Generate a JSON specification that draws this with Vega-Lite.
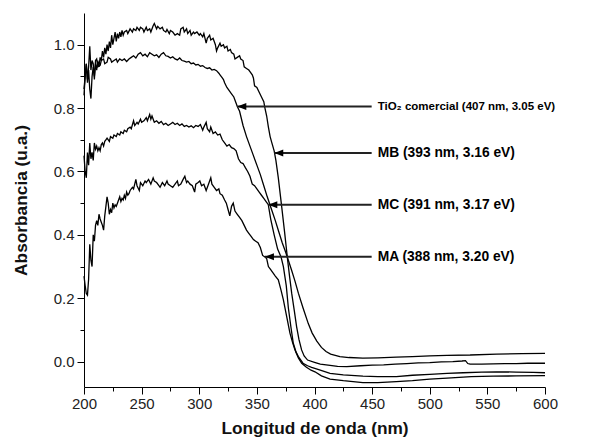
{
  "$schema": "https://vega.github.io/schema/vega-lite/v6.json",
  "autosize": "none",
  "width": 461,
  "height": 374,
  "padding": {"left": 84, "top": 13, "right": 50, "bottom": 56},
  "config": {
    "view": {"stroke": null},
    "font": "Liberation Sans"
  },
  "resolve": {"axis": {"x": "independent", "y": "independent"}},
  "datasets": {
    "spectra": [
      {"s":"MB","x":200,"y":0.84},{"s":"MB","x":201,"y":0.90},{"s":"MB","x":202,"y":0.94},{"s":"MB","x":203,"y":0.88},{"s":"MB","x":204,"y":0.92},{"s":"MB","x":205,"y":0.86},{"s":"MB","x":206,"y":0.83},{"s":"MB","x":207,"y":0.90},{"s":"MB","x":208,"y":0.93},{"s":"MB","x":209,"y":0.90},{"s":"MB","x":210,"y":0.94},{"s":"MB","x":211,"y":0.92},{"s":"MB","x":212,"y":0.95},{"s":"MB","x":213,"y":0.93},{"s":"MB","x":214,"y":0.96},{"s":"MB","x":215,"y":0.95},{"s":"MB","x":216,"y":0.98},{"s":"MB","x":217,"y":0.96},{"s":"MB","x":218,"y":0.99},{"s":"MB","x":219,"y":0.97},{"s":"MB","x":220,"y":1.0},{"s":"MB","x":221,"y":0.98},{"s":"MB","x":222,"y":1.01},{"s":"MB","x":223,"y":0.99},{"s":"MB","x":224,"y":1.03},{"s":"MB","x":225,"y":1.0},{"s":"MB","x":226,"y":1.02},{"s":"MB","x":227,"y":1.04},{"s":"MB","x":228,"y":1.01},{"s":"MB","x":229,"y":1.035},{"s":"MB","x":230,"y":1.02},{"s":"MB","x":231,"y":1.04},{"s":"MB","x":232,"y":1.025},{"s":"MB","x":233,"y":1.045},{"s":"MB","x":234,"y":1.03},{"s":"MB","x":235,"y":1.04},{"s":"MB","x":237,"y":1.045},{"s":"MB","x":238,"y":1.035},{"s":"MB","x":240,"y":1.05},{"s":"MB","x":242,"y":1.04},{"s":"MB","x":243,"y":1.05},{"s":"MB","x":245,"y":1.045},{"s":"MB","x":246,"y":1.055},{"s":"MB","x":248,"y":1.045},{"s":"MB","x":249,"y":1.055},{"s":"MB","x":251,"y":1.05},{"s":"MB","x":252,"y":1.04},{"s":"MB","x":254,"y":1.055},{"s":"MB","x":255,"y":1.045},{"s":"MB","x":257,"y":1.05},{"s":"MB","x":258,"y":1.04},{"s":"MB","x":260,"y":1.06},{"s":"MB","x":261,"y":1.067},{"s":"MB","x":263,"y":1.05},{"s":"MB","x":264,"y":1.058},{"s":"MB","x":266,"y":1.05},{"s":"MB","x":268,"y":1.055},{"s":"MB","x":269,"y":1.045},{"s":"MB","x":271,"y":1.04},{"s":"MB","x":272,"y":1.048},{"s":"MB","x":274,"y":1.035},{"s":"MB","x":275,"y":1.045},{"s":"MB","x":277,"y":1.04},{"s":"MB","x":279,"y":1.03},{"s":"MB","x":281,"y":1.035},{"s":"MB","x":283,"y":1.03},{"s":"MB","x":284,"y":1.05},{"s":"MB","x":286,"y":1.055},{"s":"MB","x":287,"y":1.04},{"s":"MB","x":289,"y":1.05},{"s":"MB","x":290,"y":1.035},{"s":"MB","x":292,"y":1.045},{"s":"MB","x":293,"y":1.03},{"s":"MB","x":295,"y":1.04},{"s":"MB","x":296,"y":1.035},{"s":"MB","x":298,"y":1.04},{"s":"MB","x":300,"y":1.03},{"s":"MB","x":301,"y":1.035},{"s":"MB","x":303,"y":1.025},{"s":"MB","x":304,"y":1.035},{"s":"MB","x":306,"y":1.005},{"s":"MB","x":307,"y":1.02},{"s":"MB","x":309,"y":1.03},{"s":"MB","x":310,"y":1.015},{"s":"MB","x":312,"y":1.02},{"s":"MB","x":314,"y":1.0},{"s":"MB","x":315,"y":0.98},{"s":"MB","x":316,"y":0.99},{"s":"MB","x":318,"y":1.005},{"s":"MB","x":319,"y":0.995},{"s":"MB","x":321,"y":1.0},{"s":"MB","x":322,"y":0.99},{"s":"MB","x":324,"y":0.995},{"s":"MB","x":325,"y":0.98},{"s":"MB","x":327,"y":0.985},{"s":"MB","x":328,"y":0.975},{"s":"MB","x":330,"y":0.97},{"s":"MB","x":331,"y":0.955},{"s":"MB","x":333,"y":0.96},{"s":"MB","x":335,"y":0.965},{"s":"MB","x":336,"y":0.955},{"s":"MB","x":338,"y":0.95},{"s":"MB","x":339,"y":0.93},{"s":"MB","x":341,"y":0.925},{"s":"MB","x":343,"y":0.92},{"s":"MB","x":344,"y":0.915},{"s":"MB","x":346,"y":0.905},{"s":"MB","x":347,"y":0.895},{"s":"MB","x":348,"y":0.87},{"s":"MB","x":350,"y":0.865},{"s":"MB","x":352,"y":0.85},{"s":"MB","x":354,"y":0.835},{"s":"MB","x":356,"y":0.82},{"s":"MB","x":357,"y":0.8},{"s":"MB","x":358.5,"y":0.775},{"s":"MB","x":360,"y":0.74},{"s":"MB","x":361.5,"y":0.71},{"s":"MB","x":363,"y":0.69},{"s":"MB","x":365,"y":0.665},{"s":"MB","x":366.5,"y":0.635},{"s":"MB","x":368.6,"y":0.58},{"s":"MB","x":371.5,"y":0.49},{"s":"MB","x":374,"y":0.41},{"s":"MB","x":376.7,"y":0.32},{"s":"MB","x":378.5,"y":0.265},{"s":"MB","x":380.2,"y":0.216},{"s":"MB","x":382.5,"y":0.16},{"s":"MB","x":384.5,"y":0.11},{"s":"MB","x":386.5,"y":0.07},{"s":"MB","x":388.8,"y":0.037},{"s":"MB","x":391,"y":0.018},{"s":"MB","x":394,"y":0.005},{"s":"MB","x":400,"y":-0.002},{"s":"MB","x":405,"y":-0.008},{"s":"MB","x":413.5,"y":-0.012},{"s":"MB","x":420,"y":-0.015},{"s":"MB","x":428,"y":-0.016},{"s":"MB","x":440,"y":-0.013},{"s":"MB","x":450,"y":-0.011},{"s":"MB","x":460,"y":-0.01},{"s":"MB","x":470,"y":-0.008},{"s":"MB","x":480,"y":-0.006},{"s":"MB","x":490,"y":-0.004},{"s":"MB","x":500,"y":-0.003},{"s":"MB","x":510,"y":-0.001},{"s":"MB","x":520,"y":0.0},{"s":"MB","x":528,"y":0.002},{"s":"MB","x":531,"y":0.003},{"s":"MB","x":533,"y":-0.006},{"s":"MB","x":535,"y":-0.008},{"s":"MB","x":545,"y":-0.008},{"s":"MB","x":555,"y":-0.007},{"s":"MB","x":565,"y":-0.006},{"s":"MB","x":575,"y":-0.006},{"s":"MB","x":585,"y":-0.005},{"s":"MB","x":600,"y":-0.005},

      {"s":"TiO2","x":200,"y":0.86},{"s":"TiO2","x":201,"y":0.9},{"s":"TiO2","x":202,"y":0.94},{"s":"TiO2","x":203,"y":0.89},{"s":"TiO2","x":204,"y":0.93},{"s":"TiO2","x":205,"y":0.995},{"s":"TiO2","x":206,"y":0.92},{"s":"TiO2","x":207,"y":0.95},{"s":"TiO2","x":208,"y":0.94},{"s":"TiO2","x":209,"y":0.89},{"s":"TiO2","x":210,"y":0.95},{"s":"TiO2","x":211,"y":0.955},{"s":"TiO2","x":212,"y":0.93},{"s":"TiO2","x":214,"y":0.935},{"s":"TiO2","x":215,"y":0.95},{"s":"TiO2","x":217,"y":0.955},{"s":"TiO2","x":218,"y":0.94},{"s":"TiO2","x":220,"y":0.945},{"s":"TiO2","x":221,"y":0.96},{"s":"TiO2","x":223,"y":0.955},{"s":"TiO2","x":224,"y":0.945},{"s":"TiO2","x":226,"y":0.95},{"s":"TiO2","x":228,"y":0.955},{"s":"TiO2","x":229,"y":0.945},{"s":"TiO2","x":231,"y":0.955},{"s":"TiO2","x":233,"y":0.95},{"s":"TiO2","x":235,"y":0.955},{"s":"TiO2","x":237,"y":0.947},{"s":"TiO2","x":239,"y":0.955},{"s":"TiO2","x":241,"y":0.96},{"s":"TiO2","x":243,"y":0.965},{"s":"TiO2","x":245,"y":0.958},{"s":"TiO2","x":247,"y":0.97},{"s":"TiO2","x":249,"y":0.975},{"s":"TiO2","x":251,"y":0.965},{"s":"TiO2","x":253,"y":0.97},{"s":"TiO2","x":255,"y":0.962},{"s":"TiO2","x":257,"y":0.975},{"s":"TiO2","x":259,"y":0.97},{"s":"TiO2","x":261,"y":0.965},{"s":"TiO2","x":263,"y":0.968},{"s":"TiO2","x":265,"y":0.96},{"s":"TiO2","x":267,"y":0.97},{"s":"TiO2","x":269,"y":0.975},{"s":"TiO2","x":271,"y":0.965},{"s":"TiO2","x":273,"y":0.963},{"s":"TiO2","x":275,"y":0.958},{"s":"TiO2","x":277,"y":0.962},{"s":"TiO2","x":279,"y":0.955},{"s":"TiO2","x":281,"y":0.952},{"s":"TiO2","x":283,"y":0.958},{"s":"TiO2","x":285,"y":0.95},{"s":"TiO2","x":287,"y":0.948},{"s":"TiO2","x":289,"y":0.945},{"s":"TiO2","x":291,"y":0.947},{"s":"TiO2","x":293,"y":0.94},{"s":"TiO2","x":295,"y":0.942},{"s":"TiO2","x":297,"y":0.936},{"s":"TiO2","x":299,"y":0.938},{"s":"TiO2","x":301,"y":0.932},{"s":"TiO2","x":303,"y":0.934},{"s":"TiO2","x":305,"y":0.928},{"s":"TiO2","x":307,"y":0.925},{"s":"TiO2","x":309,"y":0.927},{"s":"TiO2","x":311,"y":0.92},{"s":"TiO2","x":313,"y":0.922},{"s":"TiO2","x":315,"y":0.918},{"s":"TiO2","x":317,"y":0.91},{"s":"TiO2","x":318,"y":0.905},{"s":"TiO2","x":320,"y":0.895},{"s":"TiO2","x":321,"y":0.89},{"s":"TiO2","x":322,"y":0.88},{"s":"TiO2","x":324,"y":0.865},{"s":"TiO2","x":326,"y":0.855},{"s":"TiO2","x":328,"y":0.845},{"s":"TiO2","x":330,"y":0.835},{"s":"TiO2","x":332,"y":0.815},{"s":"TiO2","x":333,"y":0.805},{"s":"TiO2","x":335,"y":0.79},{"s":"TiO2","x":338,"y":0.745},{"s":"TiO2","x":341,"y":0.71},{"s":"TiO2","x":344,"y":0.68},{"s":"TiO2","x":347,"y":0.65},{"s":"TiO2","x":350,"y":0.62},{"s":"TiO2","x":353,"y":0.59},{"s":"TiO2","x":356,"y":0.555},{"s":"TiO2","x":359,"y":0.52},{"s":"TiO2","x":362.8,"y":0.479},{"s":"TiO2","x":366,"y":0.445},{"s":"TiO2","x":369,"y":0.41},{"s":"TiO2","x":372,"y":0.375},{"s":"TiO2","x":375,"y":0.345},{"s":"TiO2","x":377.3,"y":0.32},{"s":"TiO2","x":380,"y":0.29},{"s":"TiO2","x":383,"y":0.255},{"s":"TiO2","x":386,"y":0.216},{"s":"TiO2","x":390,"y":0.17},{"s":"TiO2","x":394.6,"y":0.12},{"s":"TiO2","x":398,"y":0.09},{"s":"TiO2","x":402,"y":0.065},{"s":"TiO2","x":406,"y":0.045},{"s":"TiO2","x":410,"y":0.032},{"s":"TiO2","x":414,"y":0.024},{"s":"TiO2","x":418,"y":0.02},{"s":"TiO2","x":422,"y":0.016},{"s":"TiO2","x":430,"y":0.013},{"s":"TiO2","x":442,"y":0.011},{"s":"TiO2","x":455,"y":0.012},{"s":"TiO2","x":471,"y":0.014},{"s":"TiO2","x":485,"y":0.016},{"s":"TiO2","x":500,"y":0.018},{"s":"TiO2","x":515,"y":0.02},{"s":"TiO2","x":535,"y":0.021},{"s":"TiO2","x":558,"y":0.024},{"s":"TiO2","x":580,"y":0.025},{"s":"TiO2","x":600,"y":0.026},

      {"s":"MC","x":200,"y":0.65},{"s":"MC","x":201,"y":0.6},{"s":"MC","x":202,"y":0.58},{"s":"MC","x":203,"y":0.66},{"s":"MC","x":204,"y":0.62},{"s":"MC","x":205,"y":0.69},{"s":"MC","x":206,"y":0.64},{"s":"MC","x":207,"y":0.66},{"s":"MC","x":208,"y":0.635},{"s":"MC","x":209,"y":0.69},{"s":"MC","x":210,"y":0.67},{"s":"MC","x":211,"y":0.68},{"s":"MC","x":212,"y":0.665},{"s":"MC","x":213,"y":0.675},{"s":"MC","x":214,"y":0.665},{"s":"MC","x":215,"y":0.685},{"s":"MC","x":216,"y":0.69},{"s":"MC","x":217,"y":0.68},{"s":"MC","x":218,"y":0.695},{"s":"MC","x":219,"y":0.7},{"s":"MC","x":220,"y":0.705},{"s":"MC","x":222,"y":0.695},{"s":"MC","x":223,"y":0.71},{"s":"MC","x":225,"y":0.705},{"s":"MC","x":226,"y":0.715},{"s":"MC","x":228,"y":0.71},{"s":"MC","x":229,"y":0.72},{"s":"MC","x":231,"y":0.715},{"s":"MC","x":232,"y":0.725},{"s":"MC","x":234,"y":0.72},{"s":"MC","x":235,"y":0.73},{"s":"MC","x":237,"y":0.725},{"s":"MC","x":238,"y":0.735},{"s":"MC","x":240,"y":0.74},{"s":"MC","x":241,"y":0.735},{"s":"MC","x":243,"y":0.76},{"s":"MC","x":244,"y":0.745},{"s":"MC","x":246,"y":0.755},{"s":"MC","x":247,"y":0.75},{"s":"MC","x":249,"y":0.765},{"s":"MC","x":250,"y":0.755},{"s":"MC","x":252,"y":0.76},{"s":"MC","x":254,"y":0.77},{"s":"MC","x":255,"y":0.76},{"s":"MC","x":257,"y":0.78},{"s":"MC","x":258,"y":0.765},{"s":"MC","x":259,"y":0.775},{"s":"MC","x":261,"y":0.755},{"s":"MC","x":263,"y":0.76},{"s":"MC","x":265,"y":0.752},{"s":"MC","x":267,"y":0.758},{"s":"MC","x":269,"y":0.748},{"s":"MC","x":271,"y":0.752},{"s":"MC","x":273,"y":0.745},{"s":"MC","x":275,"y":0.75},{"s":"MC","x":277,"y":0.755},{"s":"MC","x":279,"y":0.748},{"s":"MC","x":281,"y":0.752},{"s":"MC","x":283,"y":0.745},{"s":"MC","x":285,"y":0.75},{"s":"MC","x":287,"y":0.742},{"s":"MC","x":289,"y":0.745},{"s":"MC","x":291,"y":0.74},{"s":"MC","x":293,"y":0.744},{"s":"MC","x":295,"y":0.738},{"s":"MC","x":297,"y":0.745},{"s":"MC","x":299,"y":0.742},{"s":"MC","x":301,"y":0.748},{"s":"MC","x":303,"y":0.73},{"s":"MC","x":304,"y":0.74},{"s":"MC","x":306,"y":0.755},{"s":"MC","x":307,"y":0.735},{"s":"MC","x":309,"y":0.725},{"s":"MC","x":310,"y":0.74},{"s":"MC","x":312,"y":0.72},{"s":"MC","x":314,"y":0.725},{"s":"MC","x":316,"y":0.715},{"s":"MC","x":318,"y":0.718},{"s":"MC","x":320,"y":0.7},{"s":"MC","x":322,"y":0.69},{"s":"MC","x":324,"y":0.68},{"s":"MC","x":326,"y":0.685},{"s":"MC","x":328,"y":0.675},{"s":"MC","x":330,"y":0.672},{"s":"MC","x":332,"y":0.665},{"s":"MC","x":334,"y":0.64},{"s":"MC","x":336,"y":0.628},{"s":"MC","x":338,"y":0.625},{"s":"MC","x":340,"y":0.612},{"s":"MC","x":342,"y":0.6},{"s":"MC","x":344,"y":0.585},{"s":"MC","x":346,"y":0.56},{"s":"MC","x":348,"y":0.555},{"s":"MC","x":350,"y":0.545},{"s":"MC","x":352,"y":0.535},{"s":"MC","x":354,"y":0.525},{"s":"MC","x":356,"y":0.515},{"s":"MC","x":358,"y":0.505},{"s":"MC","x":359.9,"y":0.495},{"s":"MC","x":362,"y":0.45},{"s":"MC","x":365,"y":0.4},{"s":"MC","x":368,"y":0.355},{"s":"MC","x":371,"y":0.33},{"s":"MC","x":373,"y":0.3},{"s":"MC","x":375.5,"y":0.24},{"s":"MC","x":377.3,"y":0.17},{"s":"MC","x":379.5,"y":0.11},{"s":"MC","x":381.6,"y":0.058},{"s":"MC","x":384,"y":0.03},{"s":"MC","x":386,"y":0.016},{"s":"MC","x":390,"y":-0.005},{"s":"MC","x":394,"y":-0.013},{"s":"MC","x":397.5,"y":-0.018},{"s":"MC","x":405,"y":-0.027},{"s":"MC","x":413.5,"y":-0.037},{"s":"MC","x":425,"y":-0.042},{"s":"MC","x":442,"y":-0.046},{"s":"MC","x":455,"y":-0.047},{"s":"MC","x":471,"y":-0.047},{"s":"MC","x":485,"y":-0.043},{"s":"MC","x":500,"y":-0.04},{"s":"MC","x":515,"y":-0.037},{"s":"MC","x":529,"y":-0.035},{"s":"MC","x":545,"y":-0.033},{"s":"MC","x":558,"y":-0.032},{"s":"MC","x":575,"y":-0.033},{"s":"MC","x":590,"y":-0.034},{"s":"MC","x":600,"y":-0.035},

      {"s":"MA","x":200,"y":0.27},{"s":"MA","x":201,"y":0.24},{"s":"MA","x":202,"y":0.215},{"s":"MA","x":203,"y":0.21},{"s":"MA","x":204,"y":0.26},{"s":"MA","x":205,"y":0.37},{"s":"MA","x":206,"y":0.32},{"s":"MA","x":207,"y":0.3},{"s":"MA","x":208,"y":0.4},{"s":"MA","x":209,"y":0.38},{"s":"MA","x":210,"y":0.43},{"s":"MA","x":211,"y":0.445},{"s":"MA","x":212,"y":0.43},{"s":"MA","x":213,"y":0.465},{"s":"MA","x":214,"y":0.45},{"s":"MA","x":215,"y":0.44},{"s":"MA","x":216,"y":0.43},{"s":"MA","x":217,"y":0.415},{"s":"MA","x":218,"y":0.46},{"s":"MA","x":219,"y":0.49},{"s":"MA","x":220,"y":0.52},{"s":"MA","x":221,"y":0.5},{"s":"MA","x":222,"y":0.465},{"s":"MA","x":223,"y":0.48},{"s":"MA","x":224,"y":0.47},{"s":"MA","x":225,"y":0.5},{"s":"MA","x":226,"y":0.485},{"s":"MA","x":227,"y":0.495},{"s":"MA","x":228,"y":0.49},{"s":"MA","x":229,"y":0.5},{"s":"MA","x":230,"y":0.51},{"s":"MA","x":231,"y":0.52},{"s":"MA","x":232,"y":0.505},{"s":"MA","x":233,"y":0.515},{"s":"MA","x":234,"y":0.51},{"s":"MA","x":235,"y":0.525},{"s":"MA","x":236,"y":0.515},{"s":"MA","x":237,"y":0.535},{"s":"MA","x":238,"y":0.525},{"s":"MA","x":239,"y":0.53},{"s":"MA","x":240,"y":0.54},{"s":"MA","x":242,"y":0.55},{"s":"MA","x":243,"y":0.545},{"s":"MA","x":245,"y":0.575},{"s":"MA","x":246,"y":0.555},{"s":"MA","x":248,"y":0.54},{"s":"MA","x":249,"y":0.565},{"s":"MA","x":251,"y":0.555},{"s":"MA","x":253,"y":0.57},{"s":"MA","x":254,"y":0.565},{"s":"MA","x":256,"y":0.575},{"s":"MA","x":258,"y":0.56},{"s":"MA","x":260,"y":0.58},{"s":"MA","x":261,"y":0.57},{"s":"MA","x":263,"y":0.565},{"s":"MA","x":265,"y":0.555},{"s":"MA","x":266,"y":0.55},{"s":"MA","x":268,"y":0.565},{"s":"MA","x":270,"y":0.555},{"s":"MA","x":272,"y":0.57},{"s":"MA","x":273,"y":0.56},{"s":"MA","x":275,"y":0.555},{"s":"MA","x":277,"y":0.55},{"s":"MA","x":279,"y":0.56},{"s":"MA","x":281,"y":0.57},{"s":"MA","x":282,"y":0.555},{"s":"MA","x":284,"y":0.56},{"s":"MA","x":286,"y":0.575},{"s":"MA","x":287.5,"y":0.585},{"s":"MA","x":289,"y":0.565},{"s":"MA","x":290,"y":0.57},{"s":"MA","x":292,"y":0.56},{"s":"MA","x":294,"y":0.555},{"s":"MA","x":296,"y":0.535},{"s":"MA","x":297,"y":0.56},{"s":"MA","x":299,"y":0.565},{"s":"MA","x":300.5,"y":0.57},{"s":"MA","x":302,"y":0.555},{"s":"MA","x":304,"y":0.56},{"s":"MA","x":306,"y":0.54},{"s":"MA","x":308,"y":0.56},{"s":"MA","x":310,"y":0.58},{"s":"MA","x":311,"y":0.56},{"s":"MA","x":313,"y":0.55},{"s":"MA","x":315,"y":0.54},{"s":"MA","x":317,"y":0.545},{"s":"MA","x":318,"y":0.53},{"s":"MA","x":320,"y":0.525},{"s":"MA","x":322,"y":0.51},{"s":"MA","x":323.5,"y":0.5},{"s":"MA","x":325,"y":0.48},{"s":"MA","x":326.5,"y":0.46},{"s":"MA","x":328,"y":0.49},{"s":"MA","x":329.5,"y":0.5},{"s":"MA","x":331,"y":0.475},{"s":"MA","x":333,"y":0.465},{"s":"MA","x":335,"y":0.455},{"s":"MA","x":337,"y":0.445},{"s":"MA","x":339,"y":0.43},{"s":"MA","x":341,"y":0.415},{"s":"MA","x":343,"y":0.405},{"s":"MA","x":345,"y":0.395},{"s":"MA","x":347,"y":0.385},{"s":"MA","x":349,"y":0.38},{"s":"MA","x":351,"y":0.375},{"s":"MA","x":353,"y":0.36},{"s":"MA","x":355,"y":0.335},{"s":"MA","x":357,"y":0.33},{"s":"MA","x":358.5,"y":0.325},{"s":"MA","x":360,"y":0.3},{"s":"MA","x":362,"y":0.29},{"s":"MA","x":364,"y":0.28},{"s":"MA","x":366,"y":0.27},{"s":"MA","x":368.6,"y":0.258},{"s":"MA","x":371,"y":0.225},{"s":"MA","x":373,"y":0.195},{"s":"MA","x":376,"y":0.14},{"s":"MA","x":378.7,"y":0.09},{"s":"MA","x":381,"y":0.06},{"s":"MA","x":383.1,"y":0.037},{"s":"MA","x":386,"y":0.012},{"s":"MA","x":388.9,"y":-0.005},{"s":"MA","x":393,"y":-0.018},{"s":"MA","x":397,"y":-0.027},{"s":"MA","x":400.4,"y":-0.032},{"s":"MA","x":406,"y":-0.045},{"s":"MA","x":413.5,"y":-0.055},{"s":"MA","x":425,"y":-0.06},{"s":"MA","x":442,"y":-0.066},{"s":"MA","x":455,"y":-0.066},{"s":"MA","x":471,"y":-0.063},{"s":"MA","x":485,"y":-0.06},{"s":"MA","x":500,"y":-0.055},{"s":"MA","x":515,"y":-0.052},{"s":"MA","x":536,"y":-0.047},{"s":"MA","x":555,"y":-0.046},{"s":"MA","x":575,"y":-0.045},{"s":"MA","x":600,"y":-0.044}
    ],
    "notes": [
      {"x": 333, "y": 0.805, "x2": 449.6, "label": "TiO₂ comercial (407 nm, 3.05 eV)"},
      {"x": 365.1, "y": 0.658, "x2": 449.6, "label": "MB (393 nm, 3.16 eV)"},
      {"x": 359.9, "y": 0.495, "x2": 449.6, "label": "MC (391 nm, 3.17 eV)"},
      {"x": 357, "y": 0.331, "x2": 449.6, "label": "MA (388 nm, 3.20 eV)"}
    ]
  },
  "layer": [
    {
      "data": {"name": "spectra"},
      "mark": {"type": "line", "color": "#000000", "strokeWidth": 1.3},
      "encoding": {
        "x": {
          "field": "x", "type": "quantitative",
          "scale": {"domain": [200, 600], "nice": false, "zero": false},
          "axis": {
            "orient": "bottom",
            "title": "Longitud de onda (nm)",
            "grid": false,
            "domain": true,
            "domainColor": "black",
            "ticks": true,
            "tickColor": "black",
            "tickSize": 7,
            "values": [200,250,300,350,400,450,500,550,600],
            "labelFlush": false,
            "labelFontSize": 15,
            "labelColor": "#222222",
            "labelPadding": 2,
            "titleFontSize": 17.3,
            "titleFontWeight": "bold",
            "titleColor": "#111111",
            "titlePadding": 8
          }
        },
        "y": {
          "field": "y", "type": "quantitative",
          "scale": {"domain": [-0.08, 1.1], "nice": false, "zero": false},
          "axis": {
            "orient": "left",
            "title": "Absorbancia (u.a.)",
            "grid": false,
            "domain": true,
            "domainColor": "black",
            "ticks": true,
            "tickColor": "black",
            "tickSize": 7,
            "values": [0,0.2,0.4,0.6,0.8,1.0],
            "format": ".1f",
            "labelFontSize": 15,
            "labelColor": "#222222",
            "labelPadding": 3,
            "titleFontSize": 17.3,
            "titleFontWeight": "bold",
            "titleColor": "#111111",
            "titlePadding": 23
          }
        },
        "detail": {"field": "s", "type": "nominal"}
      }
    },
    {
      "data": {"name": "notes"},
      "mark": {"type": "rule", "color": "#222222", "strokeWidth": 2},
      "encoding": {
        "x": {
          "field": "x", "type": "quantitative",
          "scale": {"domain": [200, 600], "nice": false, "zero": false},
          "axis": {
            "orient": "bottom",
            "title": null,
            "grid": false,
            "domain": false,
            "labels": false,
            "ticks": true,
            "tickColor": "black",
            "tickSize": 4,
            "values": [225,275,325,375,425,475,525,575]
          }
        },
        "x2": {"field": "x2"},
        "y": {
          "field": "y", "type": "quantitative",
          "scale": {"domain": [-0.08, 1.1], "nice": false, "zero": false},
          "axis": {
            "orient": "left",
            "title": null,
            "grid": false,
            "domain": false,
            "labels": false,
            "ticks": true,
            "tickColor": "black",
            "tickSize": 4,
            "values": [0.1,0.3,0.5,0.7,0.9]
          }
        }
      }
    },
    {
      "data": {"name": "notes"},
      "mark": {"type": "point", "shape": "M0,0L2,-0.78L2,0.78Z", "filled": true, "color": "#000000", "opacity": 1, "size": 81},
      "encoding": {
        "x": {"field": "x", "type": "quantitative", "axis": null},
        "y": {"field": "y", "type": "quantitative", "axis": null}
      }
    },
    {
      "data": {"name": "notes"},
      "transform": [{"filter": "datum.label !== 'TiO₂ comercial (407 nm, 3.05 eV)'"}],
      "mark": {"type": "text", "align": "left", "baseline": "middle", "dx": 6, "font": "Liberation Sans", "fontWeight": "bold", "fontSize": 13.8, "color": "#000000"},
      "encoding": {
        "x": {"field": "x2", "type": "quantitative", "axis": null},
        "y": {"field": "y", "type": "quantitative", "axis": null},
        "text": {"field": "label"}
      }
    },
    {
      "data": {"name": "notes"},
      "transform": [{"filter": "datum.label === 'TiO₂ comercial (407 nm, 3.05 eV)'"}],
      "mark": {"type": "text", "align": "left", "baseline": "middle", "dx": 6, "font": "Liberation Sans", "fontWeight": "bold", "fontSize": 11.5, "color": "#000000"},
      "encoding": {
        "x": {"field": "x2", "type": "quantitative", "axis": null},
        "y": {"field": "y", "type": "quantitative", "axis": null},
        "text": {"field": "label"}
      }
    }
  ]
}
